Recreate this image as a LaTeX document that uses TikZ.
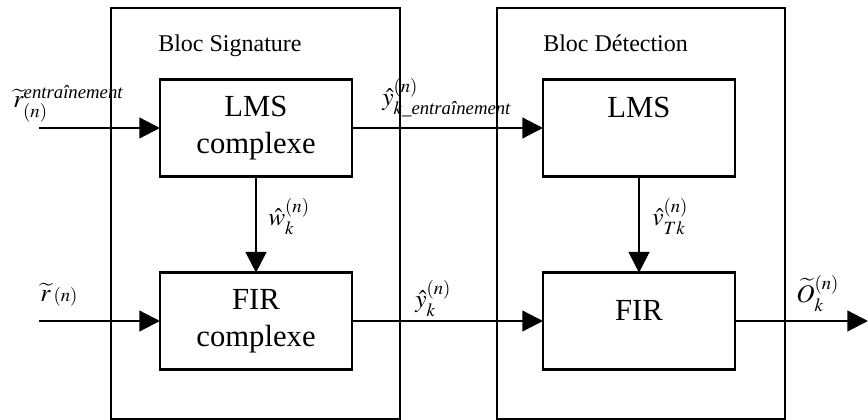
\documentclass[tikz,border=0pt]{standalone}
\usepackage{amsmath}
\usepackage{mathptmx}
\usepackage{fontspec}
\setmainfont{Liberation Serif}
\usetikzlibrary{arrows.meta,positioning}

\begin{document}
\begin{tikzpicture}[x=0.75pt,y=-0.75pt,
  every node/.style={font=\fontsize{17pt}{27.5pt}\selectfont},
  bloc/.style={draw,line width=1.3pt,inner sep=0pt,outer sep=0pt,minimum width=216.5pt,minimum height=308.25pt},
  filtre/.style={draw,line width=1.9pt,inner sep=0pt,outer sep=0pt,align=center,minimum width=144pt,minimum height=72.5pt,
    font=\fontsize{23pt}{27.5pt}\selectfont},
  fleche/.style={-{Triangle[length=15.5pt,width=15.5pt]},line width=1.7pt},
  titre/.style={anchor=base west,inner sep=0pt,font=\fontsize{18pt}{22pt}\selectfont},
  signal/.style={anchor=base west,inner sep=0pt,font=\fontsize{19pt}{22pt}\selectfont}]
\useasboundingbox (0,0) rectangle (868,420);
% les deux blocs
\node[bloc] (sig) at (255.5,213.5) {};
\node[bloc] (det) at (641,213.5) {};
\node[titre] (tsig) at (158,52) {Bloc Signature};
\node[titre] (tdet) at (543,52) {Bloc Détection};
% filtres
\node[filtre] (lmsc) at (256,128) {LMS\\complexe};
\node[filtre] (firc) at (256,321) {FIR\\complexe};
\node[filtre] (lms) at (639,128) {\raisebox{7.5pt}[0pt][0pt]{LMS}};
\node[filtre] (fir) at (639,321) {\raisebox{0pt}[0pt][0pt]{FIR}};
% entrees et sortie
\coordinate (e1) at (39,128);
\coordinate (e2) at (39,321);
\coordinate (s) at (868,321);
\draw[fleche] (e1) -- (lmsc);
\draw[fleche] (e2) -- (firc);
\draw[fleche] (lmsc) -- (lms);
\draw[fleche] (firc) -- (fir);
\draw[fleche] (lmsc) -- (firc);
\draw[fleche] (lms) -- (fir);
\draw[fleche] (fir) -- (s);
% signaux
\node[signal] (rent) at (13,108) {$\widetilde{r}_{(n)}^{\text{\itshape entraînement}}$};
\node[signal] (rn) at (40,302) {$\widetilde{r}\,{\scriptstyle(n)}$};
\node[signal] (yent) at (382,106) {$\hat{y}_{k\text{\itshape\_entraînement}}^{(n)}$};
\node[signal] (wk) at (268,226) {$\hat{w}_k^{(n)}$};
\node[signal] (vtk) at (652,226) {$\hat{v}_{Tk}^{(n)}$};
\node[signal] (yk) at (415,308) {$\hat{y}_k^{(n)}$};
\node[signal] (ok) at (796,303) {$\widetilde{O}_k^{(n)}$};
\end{tikzpicture}
\end{document}
